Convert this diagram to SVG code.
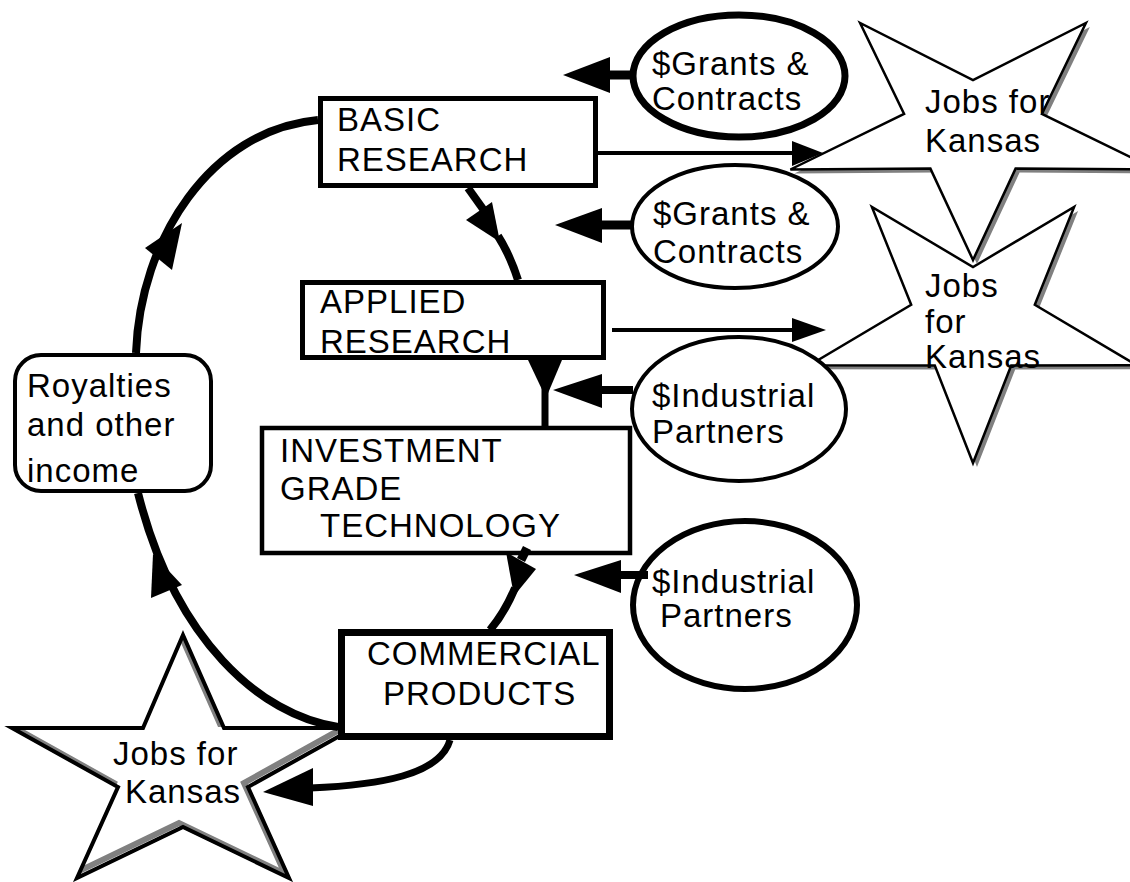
<svg xmlns="http://www.w3.org/2000/svg" xmlns:xlink="http://www.w3.org/1999/xlink" width="1130" height="882" viewBox="0 0 1130 882">
<style>
text{font-family:"Liberation Sans",Arial,sans-serif;font-size:33px;letter-spacing:1px;fill:#000}
.box{fill:#fff;stroke:#000}
.star{fill:#fff;stroke:#000;stroke-width:2.5;stroke-linejoin:miter}
.shadow{fill:#808080;stroke:none}
.thick{fill:none;stroke:#000;stroke-width:8}
.thin{fill:none;stroke:#000;stroke-width:4}
.head{fill:#000;stroke:none}
</style>
<defs>
<polygon id="s1" points="973,260 930.4,168.6 790.4,169.5 904.1,113.9 860.1,23 973,80 1085.9,23 1041.9,113.9 1155.6,169.5 1015.6,168.6"/>
<polygon id="s2" points="973,463 934.8,365.6 809.4,365.2 911.2,304.7 871.9,207 973,267 1074.1,207 1034.8,304.7 1136.6,365.2 1011.2,365.6"/>
<polygon id="s3" points="183,635 224,728 354,728 248,787 289,878 183,827 77,878 118,787 12,728 143,728"/>
<clipPath id="c3"><use xlink:href="#s3"/></clipPath>
</defs>
<rect width="1130" height="882" fill="#fff"/>

<g id="star-jobs-2">
<use xlink:href="#s2" class="shadow" transform="translate(4,4)"/>
<use xlink:href="#s2" class="star"/>
<text x="925" y="297">Jobs</text>
<text x="925" y="333">for</text>
<text x="925" y="368">Kansas</text>
</g>
<g id="star-jobs-1">
<use xlink:href="#s1" class="shadow" transform="translate(4,4)"/>
<use xlink:href="#s1" class="star"/>
<text x="925" y="113">Jobs for</text>
<text x="925" y="152">Kansas</text>
</g>
<g id="star-jobs-3">
<use xlink:href="#s3" class="star"/>
<g clip-path="url(#c3)"><use xlink:href="#s3" transform="translate(-4,-4)" fill="none" stroke="#808080" stroke-width="6"/></g>
<use xlink:href="#s3" fill="none" stroke="#000" stroke-width="4"/>
<text x="113" y="765">Jobs for</text>
<text x="125" y="803">Kansas</text>
</g>

<g id="royalties">
<rect class="box" x="15" y="355" width="196" height="136" rx="26" stroke-width="4"/>
<text x="27" y="397">Royalties</text>
<text x="27" y="436">and other</text>
<text x="27" y="482">income</text>
</g>
<g id="basic-research">
<rect class="box" x="320.5" y="98.5" width="275" height="87" stroke-width="5"/>
<text x="337" y="131">BASIC</text>
<text x="337" y="171">RESEARCH</text>
</g>
<g id="applied-research">
<rect class="box" x="302.5" y="282.5" width="301" height="75" stroke-width="5"/>
<text x="320" y="313">APPLIED</text>
<text x="320" y="353">RESEARCH</text>
</g>
<g id="investment-grade">
<rect class="box" x="262" y="428" width="368" height="125" stroke-width="4.5"/>
<text x="280" y="462">INVESTMENT</text>
<text x="280" y="500">GRADE</text>
<text x="320" y="537">TECHNOLOGY</text>
</g>
<g id="commercial-products">
<rect class="box" x="341.5" y="632.5" width="268" height="104" stroke-width="7"/>
<text x="367" y="665">COMMERCIAL</text>
<text x="383" y="705">PRODUCTS</text>
</g>

<g id="grants-1">
<ellipse class="box" cx="739" cy="76" rx="106" ry="61" stroke-width="7"/>
<text x="652" y="75">$Grants &amp;</text>
<text x="652" y="110">Contracts</text>
</g>
<g id="grants-2">
<ellipse class="box" cx="735" cy="226.5" rx="103" ry="61.5" stroke-width="4"/>
<text x="653" y="225">$Grants &amp;</text>
<text x="653" y="263">Contracts</text>
</g>
<g id="industrial-1">
<ellipse class="box" cx="739" cy="409" rx="107" ry="72" stroke-width="4"/>
<text x="652" y="407">$Industrial</text>
<text x="652" y="443">Partners</text>
</g>
<g id="industrial-2">
<ellipse class="box" cx="745" cy="605" rx="112" ry="84" stroke-width="6"/>
<text x="652" y="593">$Industrial</text>
<text x="660" y="627">Partners</text>
</g>

<g id="connectors">
<path class="thick" d="M338,727 C260,715 175,640 138,493"/>
<polygon class="head" points="153,554 151,598 182,585"/>
<path class="thick" d="M136,353 C140,240 210,130 318,120"/>
<polygon class="head" points="182,223 145,248 172,270"/>
<path class="thick" d="M468,188 L488,216"/>
<polygon class="head" points="466,220 492,202 500,242"/>
<path class="thick" d="M498,236 Q510,255 518,280"/>
<path d="M545,360 L545,426" stroke="#000" stroke-width="7"/>
<polygon class="head" points="528,360 562,360 546,398"/>
<path d="M527,548 L521,560" stroke="#000" stroke-width="9"/>
<polygon class="head" points="506,552 536,569 514,596"/>
<path class="thick" d="M515,588 Q505,612 490,630"/>
<path d="M450,740 C440,775 380,785 310,788" fill="none" stroke="#000" stroke-width="7"/>
<polygon class="head" points="263,792 313,768 313,806"/>
<path class="thin" d="M598,153 L796,153"/>
<polygon class="head" points="823,153 792,141 792,166"/>
<path class="thin" d="M612,330 L796,330"/>
<polygon class="head" points="826,330 792,318 792,342"/>
<path d="M608,75 L633,75" stroke="#000" stroke-width="9"/>
<polygon class="head" points="563,75 610,57 610,93"/>
<path d="M600,225 L633,225" stroke="#000" stroke-width="9"/>
<polygon class="head" points="555,225 602,208 602,243"/>
<path d="M600,390 L633,390" stroke="#000" stroke-width="8"/>
<polygon class="head" points="553,390 602,374 602,408"/>
<path d="M619,575 L648,575" stroke="#000" stroke-width="8"/>
<polygon class="head" points="574,575 621,560 621,593"/>
</g>
</svg>
